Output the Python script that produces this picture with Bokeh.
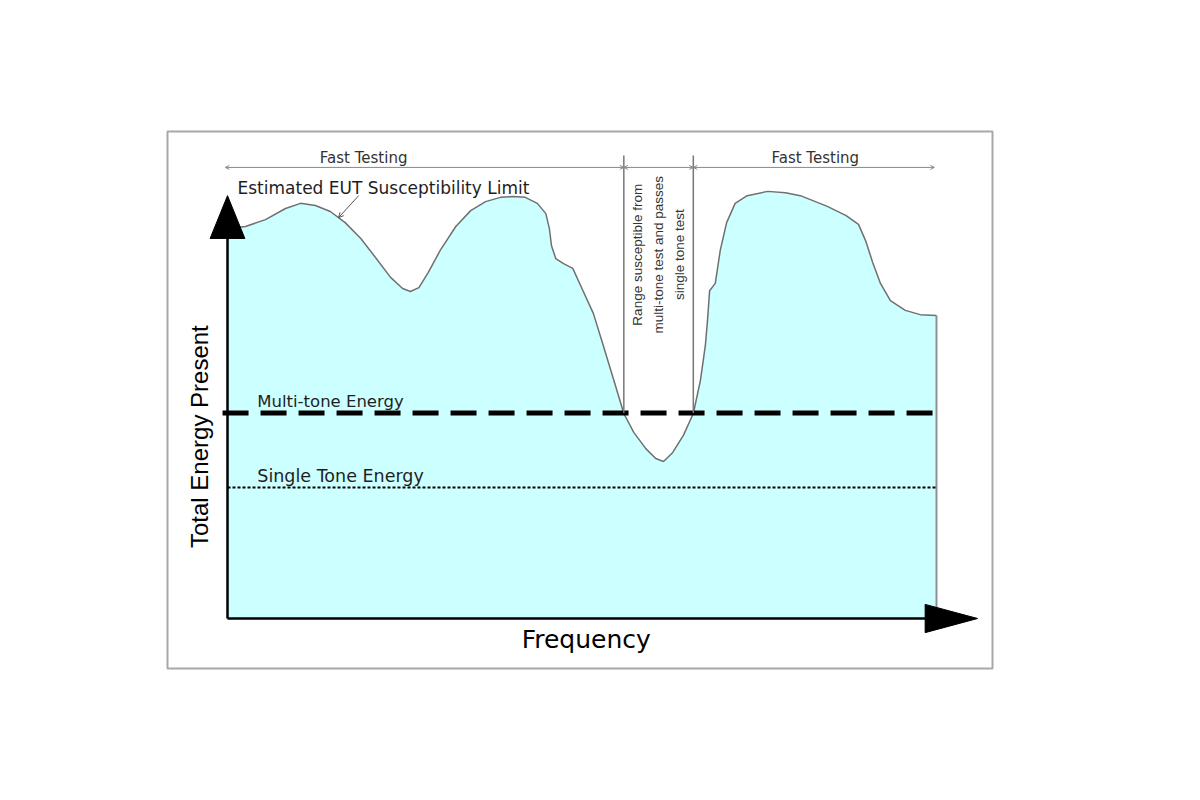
import numpy as np
from bokeh.plotting import figure
from bokeh.models import Range1d, Arrow, OpenHead
from bokeh.core.properties import value
from bokeh.embed import file_html
from bokeh.resources import INLINE

# ---- data (frequency 0..100, energy 0..100, arbitrary units) ----
freq = [0, 2.54, 5.36, 8.18, 10.3, 12.4, 14.5, 16.6, 18.8, 20.9, 23.0, 24.7, 25.8,
        27.0, 28.3, 30.0, 32.2, 34.3, 36.4, 38.5, 40.3, 42.0, 43.7, 44.9, 45.4,
        45.7, 46.3, 47.4, 48.7, 49.8, 51.6, 53.0, 54.5, 55.9, 57.3, 59.0, 60.4,
        61.5, 62.8, 64.3, 65.7, 66.7, 67.4, 67.7, 68.0, 68.8, 69.5, 70.4, 71.6,
        73.3, 76.2, 78.7, 80.8, 84.6, 87.2, 89.0, 90.0, 91.0, 92.1, 93.5, 95.6,
        97.7, 100]
limit = [91.1, 91.6, 93.2, 95.8, 97.0, 96.5, 95.1, 92.5, 88.8, 84.3, 79.7, 77.1, 76.4,
         77.3, 80.8, 86.0, 91.6, 95.3, 97.4, 98.4, 98.6, 98.4, 97.0, 94.6, 91.1,
         87.1, 84.1, 82.9, 81.8, 77.8, 71.3, 63.8, 55.6, 47.9, 43.5, 39.7, 37.4,
         36.7, 38.8, 42.8, 47.9, 55.6, 63.8, 69.6, 76.6, 78.3, 86.0, 92.5, 97.0,
         98.8, 99.8, 99.5, 98.8, 96.3, 94.2, 92.1, 88.3, 83.2, 78.3, 74.3, 72.0,
         71.0, 70.8]
multi_tone_level = 48.0
single_tone_level = 30.6
band_edges = [55.9, 65.7]          # range where limit < multi-tone energy

labels_fast = ["Fast Testing", "Fast Testing"]
range_text = ["Range susceptible from", "multi-tone test and passes", "single tone test"]

FONT = "DejaVu Sans"
VFONT = "Liberation Sans"
TXT = "#1e1e1e"

p = figure(frame_width=825, frame_height=537,
           min_border_left=167, min_border_top=131,
           min_border_right=10, min_border_bottom=10,
           x_range=Range1d(-8.463, 107.9), y_range=Range1d(-11.68, 113.79),
           x_axis_location=None, y_axis_location=None,
           output_backend="svg", toolbar_location=None)
p.grid.visible = False
p.outline_line_color = "#a8a8a8"
p.outline_line_width = 2
p.background_fill_color = "white"
p.border_fill_color = "white"

fmin, fmax = freq[0], freq[-1]

# filled area under the susceptibility limit
p.varea(x=freq, y1=0, y2=limit, fill_color="#ccffff")
p.line(freq, limit, line_color="#707070", line_width=1.5)
p.segment(x0=[fmax], y0=[0], x1=[fmax], y1=[limit[-1]], line_color="#909090", line_width=2)

# energy levels
p.line([fmin, fmax], [single_tone_level] * 2, line_color="black",
       line_width=2, line_dash="3 2")
p.line([fmin - 0.7, fmax + 0.4], [multi_tone_level] * 2, line_color="black",
       line_width=5, line_dash="26 12")

# vertical band lines
top_y = 108.2
p.segment(x0=band_edges, y0=[multi_tone_level] * 2, x1=band_edges, y1=[top_y] * 2,
          line_color="#777777", line_width=1.5)

# Fast testing arrows
arrow_y = 105.4
spans = [(fmin - 0.3, band_edges[0]), (band_edges[0], band_edges[1]), (band_edges[1], fmax - 0.3)]
for a, b in spans:
    p.add_layout(Arrow(x_start=a, y_start=arrow_y, x_end=b, y_end=arrow_y,
                       line_color="#888888", line_width=1,
                       start=OpenHead(size=4, line_color="#888888", line_width=1),
                       end=OpenHead(size=4, line_color="#888888", line_width=1)))

p.text(x=[19.2, 82.9], y=[107.5, 107.5], text=labels_fast,
       text_font=value(FONT), text_font_size="15px", text_color="#333333",
       text_align="center", text_baseline="alphabetic")

# axes with arrowheads
y_tip, y_base = 98.8, 88.8
x_tip, x_base = 105.8, 98.4
p.line([fmin, fmin], [0, y_base], line_color="black", line_width=2.5)
p.line([fmin, x_base], [0, 0], line_color="black", line_width=2.5)
p.patch([fmin - 2.45, fmin + 2.45, fmin], [y_base, y_base, y_tip], fill_color="black", line_color="black")
p.patch([x_base, x_base, x_tip], [-3.3, 3.3, 0], fill_color="black", line_color="black")

# labels
p.text(x=[1.41], y=[100.7], text=["Estimated EUT Susceptibility Limit"],
       text_font=value(FONT), text_font_size="17px", text_color=TXT,
       text_baseline="alphabetic")
tip_x = 15.66
tip_y = float(np.interp(tip_x, freq, limit))
p.add_layout(Arrow(x_start=18.5, y_start=98.8, x_end=tip_x, y_end=tip_y,
                   line_color="#555555", line_width=1,
                   end=OpenHead(size=5, line_color="#555555", line_width=1)))

p.text(x=[4.2], y=[multi_tone_level + 2.7], text=["Multi-tone Energy"],
       text_font=value(FONT), text_font_size="16.5px", text_color=TXT,
       text_baseline="alphabetic")
p.text(x=[4.2], y=[single_tone_level + 2.7], text=["Single Tone Energy"],
       text_font=value(FONT), text_font_size="17.5px", text_color=TXT,
       text_baseline="alphabetic")

mid = (band_edges[0] + band_edges[1]) / 2
p.text(x=[mid - 3.0, mid - 0.05, mid + 2.9], y=[85.0] * 3, text=range_text,
       angle=np.pi / 2, text_font=value(VFONT), text_font_size="13.5px",
       text_color="#333333", text_align="center", text_baseline="middle")

p.text(x=[-3.9], y=[42.5], text=["Total Energy Present"], angle=np.pi / 2,
       text_font=value(VFONT), text_font_size="24px", text_color="black",
       text_align="center", text_baseline="middle")
p.text(x=[50.6], y=[-4.9], text=["Frequency"],
       text_font=value(FONT), text_font_size="25px", text_color="black",
       text_align="center", text_baseline="alphabetic")

open("out.html", "w").write(file_html(p, INLINE))
